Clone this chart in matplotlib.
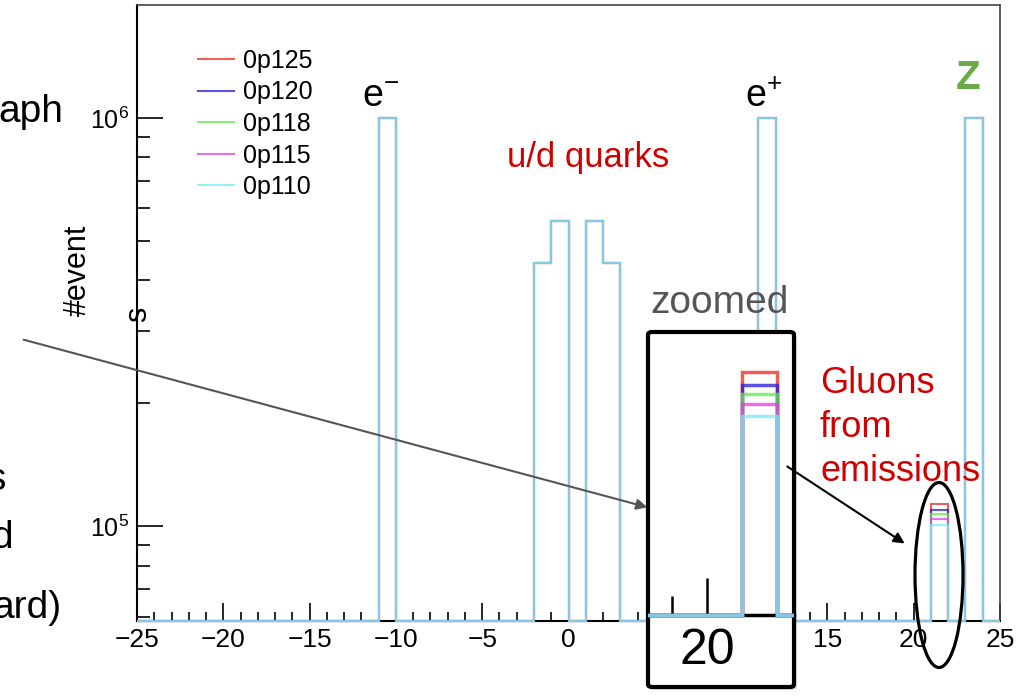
import matplotlib
matplotlib.use('Agg')
import matplotlib.pyplot as plt
import numpy as np
from matplotlib.ticker import MultipleLocator, LogLocator, NullFormatter, NullLocator
from matplotlib.patches import FancyBboxPatch, FancyArrowPatch, Ellipse
from matplotlib.lines import Line2D
from matplotlib.transforms import Bbox, TransformedBbox
import matplotlib.patheffects as pe

plt.rcParams['font.family'] = ['Liberation Sans', 'DejaVu Sans']
plt.rcParams['mathtext.fontset'] = 'custom'
plt.rcParams['mathtext.rm'] = 'Liberation Sans'
plt.rcParams['mathtext.it'] = 'Liberation Sans:italic'
plt.rcParams['mathtext.bf'] = 'Liberation Sans:bold'

# ── histogram content: one entry per PDF sample ──────────────
samples = ["0p125", "0p120", "0p118", "0p115", "0p110"]
sample_colors = ["#E8281E", "#2619D9", "#5EEB47", "#E040E0", "#73EDF2"]

# bins shared by every sample (low edge of each unit-width bin)
particle_bins = [-11, -2, -1, 1, 2, 11, 23]
particle_counts = [1.0e6, 4.4e5, 5.6e5, 5.6e5, 4.4e5, 1.0e6, 1.0e6]

# gluon bin differs per sample
gluon_bin = 21
gluon_counts = [1.135e5, 1.095e5, 1.070e5, 1.040e5, 1.005e5]

x_lo, x_hi = -25, 25
edges = np.arange(x_lo, x_hi + 1)
y_lo, y_hi = 5.85e4, 1.89e6

W, H = 1019, 698


def fx(x):
    return x / W


def fy(y):
    return 1 - y / H


def counts_for(i):
    c = np.zeros(len(edges) - 1)
    for b, v in zip(particle_bins, particle_counts):
        c[b - x_lo] = v
    c[gluon_bin - x_lo] = gluon_counts[i]
    return c


fig = plt.figure(figsize=(W / 100, H / 100), dpi=100)
ax = fig.add_axes([fx(137), fy(621), 863 / W, 616 / H])

for i, name in enumerate(samples):
    c = counts_for(i)
    ax.stairs(np.where(c > 0, c, y_lo), edges, baseline=None,
              color=sample_colors[i], alpha=0.75, lw=1.5, zorder=3, clip_on=False)

ax.set_xlim(x_lo, x_hi)
ax.set_yscale('log')
ax.set_ylim(y_lo, y_hi)
ax.xaxis.set_major_locator(MultipleLocator(5))
ax.xaxis.set_minor_locator(MultipleLocator(1))
ax.yaxis.set_major_locator(LogLocator(base=10))
ax.yaxis.set_minor_locator(LogLocator(base=10, subs=np.arange(2, 10)))
ax.yaxis.set_minor_formatter(NullFormatter())
ax.tick_params(axis='x', which='major', direction='in', length=13, width=1.2,
               labelsize=19, pad=5, top=False)
ax.tick_params(axis='x', which='minor', direction='in', length=6.5, width=1.2, top=False)
ax.tick_params(axis='y', which='major', direction='in', length=19, width=1.2,
               labelsize=18, pad=6, right=False)
ax.tick_params(axis='y', which='minor', direction='in', length=9.5, width=1.2, right=False)
for s in ['top', 'right']:
    ax.spines[s].set_color('#444444')
    ax.spines[s].set_linewidth(1.2)
for s in ['left', 'bottom']:
    ax.spines[s].set_linewidth(1.5)

handles = [Line2D([], [], color=c, alpha=0.75, lw=1.5) for c in sample_colors]
ax.legend(handles, samples, loc='upper left', bbox_to_anchor=((198 - 137) / 863, (621 - 49) / 616),
          frameon=False, fontsize=18, handlelength=1.45, handletextpad=0.35,
          labelspacing=0.3, borderpad=0, borderaxespad=0)

# ── zoomed inset around the gluon bin ───────────────────────
box = FancyBboxPatch((fx(648), fy(687)), 146 / W, 355 / H,
                     boxstyle='round,pad=0,rounding_size=0.004',
                     transform=fig.transFigure, fc='white', ec='black', lw=3, zorder=1,
                     path_effects=[pe.SimplePatchShadow(offset=(2, -2), alpha=0.25), pe.Normal()])
fig.add_artist(box)

# labels under the box are covered anyway
for lab in ax.get_xticklabels():
    if lab.get_text() in ('5', '10'):
        lab.set_visible(False)

ax_in = fig.add_axes([fx(648), fy(615), 146 / W, 283 / H], zorder=2)
ax_in.patch.set_visible(False)
clip = TransformedBbox(Bbox([[0, -0.05], [1, 1]]), ax_in.transAxes)
for i, name in enumerate(samples):
    c = counts_for(i)
    st = ax_in.stairs(np.where(c > 0, c, 5.81e4), edges, baseline=None,
                      color=sample_colors[i], alpha=0.75, lw=2.5, zorder=3)
    st.set_clip_box(clip)
ax_in.set_xlim(18.314, 22.486)
ax_in.set_yscale('log')
ax_in.set_ylim(5.81e4, 1.268e5)
ax_in.yaxis.set_major_locator(NullLocator())
ax_in.yaxis.set_minor_locator(NullLocator())
ax_in.set_xticks([20])
ax_in.set_xticklabels(['20'])
ax_in.set_xticks([19], minor=True)
ax_in.tick_params(axis='x', which='major', direction='in', length=27, width=1.8,
                  labelsize=36, pad=9)
ax_in.tick_params(axis='x', which='minor', direction='in', length=14, width=1.8)
for s in ['top', 'left', 'right']:
    ax_in.spines[s].set_visible(False)
ax_in.spines['bottom'].set_linewidth(2.5)

# ── labels and annotations ──────────────────────────────────
fig.text(fx(78), fy(270), '#event', rotation=90, ha='center', va='center', fontsize=22)
fig.text(fx(138), fy(314), 's', rotation=90, ha='center', va='center', fontsize=22)

fig.text(fx(63), fy(122), 'aph', ha='right', va='baseline', fontsize=28)
fig.text(fx(6), fy(490), 's', ha='right', va='baseline', fontsize=28)
fig.text(fx(13), fy(548), 'd', ha='right', va='baseline', fontsize=28)
fig.text(fx(61), fy(618), 'ard)', ha='right', va='baseline', fontsize=28)

fig.text(fx(381), fy(97), r'e$^{-}$', ha='center', va='center', fontsize=27)
fig.text(fx(764), fy(97), r'e$^{+}$', ha='center', va='center', fontsize=27)
fig.text(fx(968), fy(78), 'Z', ha='center', va='center', fontsize=29,
         fontweight='bold', color='#6AAB45')
fig.text(fx(588), fy(157), 'u/d quarks', ha='center', va='center', fontsize=25, color='#D00000')
fig.text(fx(720), fy(303), 'zoomed', ha='center', va='center', fontsize=28, color='#555555')
fig.text(fx(820), fy(366), 'Gluons\nfrom\nemissions', ha='left', va='top',
         fontsize=26, color='#D00000', linespacing=1.33, zorder=3)

fig.add_artist(FancyArrowPatch((fx(21), fy(339)), (fx(650), fy(508)), transform=fig.transFigure,
                               arrowstyle='-|>', mutation_scale=16, color='#555555', lw=1.5, zorder=3))
fig.add_artist(FancyArrowPatch((fx(785), fy(465)), (fx(907), fy(545)), transform=fig.transFigure,
                               arrowstyle='-|>', mutation_scale=16, color='black', lw=1.5, zorder=3))
fig.add_artist(Ellipse((fx(939), fy(575)), 48 / W, 185 / H, transform=fig.transFigure,
                       fill=False, ec='black', lw=2.3, zorder=3))

plt.savefig("out.png", dpi=100)
plt.close()
